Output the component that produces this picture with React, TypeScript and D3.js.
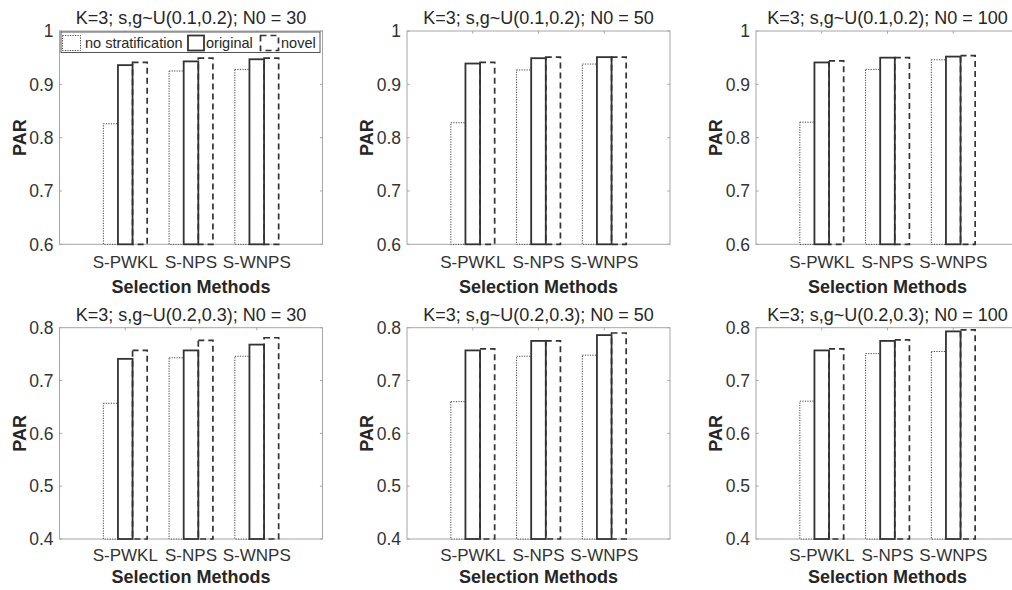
import React from 'react';
import * as d3 from 'd3';

const methods = ['S-PWKL', 'S-NPS', 'S-WNPS'];
const seriesNames = ['no stratification', 'original', 'novel'];
const titles = [
  'K=3; s,g~U(0.1,0.2); N0 = 30',
  'K=3; s,g~U(0.1,0.2); N0 = 50',
  'K=3; s,g~U(0.1,0.2); N0 = 100',
  'K=3; s,g~U(0.2,0.3); N0 = 30',
  'K=3; s,g~U(0.2,0.3); N0 = 50',
  'K=3; s,g~U(0.2,0.3); N0 = 100',
];
const noStrat = [
  [0.826, 0.925, 0.928],
  [0.828, 0.927, 0.938],
  [0.829, 0.928, 0.946],
  [0.657, 0.743, 0.746],
  [0.66, 0.746, 0.748],
  [0.661, 0.751, 0.755],
];
const original = [
  [0.936, 0.943, 0.947],
  [0.939, 0.949, 0.951],
  [0.941, 0.95, 0.952],
  [0.741, 0.757, 0.768],
  [0.757, 0.775, 0.786],
  [0.757, 0.775, 0.793],
];
const novel = [
  [0.941, 0.949, 0.949],
  [0.941, 0.951, 0.951],
  [0.944, 0.95, 0.954],
  [0.757, 0.776, 0.781],
  [0.76, 0.775, 0.79],
  [0.76, 0.777, 0.796],
];
const topTicks = [0.6, 0.7, 0.8, 0.9, 1];
const bottomTicks = [0.4, 0.5, 0.6, 0.7, 0.8];

const FONT = '"Liberation Sans", Arial, Helvetica, sans-serif';
const colLeft = [59.5, 407, 756];
const panelW = 263;
const rowTop = [31, 327.7];
const rowBottom = [244.3, 539];
const tickLabelOff = [24, 21.5];
const xLabelOff = [49, 44];

const barStyles = [
  { stroke: '#444', width: 1, dash: '1.2 1.3' },
  { stroke: '#333', width: 1.8, dash: null },
  { stroke: '#333', width: 1.7, dash: '6 4' },
];

function Panel({ idx }: { idx: number }) {
  const row = Math.floor(idx / 3);
  const col = idx % 3;
  const left = colLeft[col];
  const right = left + panelW;
  const top = rowTop[row];
  const bottom = rowBottom[row];
  const ticks = row === 0 ? topTicks : bottomTicks;
  const x = d3.scaleLinear().domain([0, 4]).range([left, right]);
  const y = d3.scaleLinear().domain(d3.extent(ticks) as [number, number]).range([bottom, top]);
  const bw = 2 / 9; // MATLAB grouped bar width
  const data = [noStrat[idx], original[idx], novel[idx]];
  const tl = 2.6;

  return (
    <g>
      <rect x={left} y={top} width={panelW} height={bottom - top} fill="#fff" stroke="#a6a6a6" strokeWidth={1} />
      {ticks.map((t) => (
        <g key={t}>
          <line x1={left} x2={left + tl} y1={y(t)} y2={y(t)} stroke="#a6a6a6" />
          <line x1={right} x2={right - tl} y1={y(t)} y2={y(t)} stroke="#a6a6a6" />
          <text x={left - 6} y={y(t)} dy="0.36em" textAnchor="end" fontSize={17.5} fill="#333" fontFamily={FONT}>
            {d3.format('~g')(t)}
          </text>
        </g>
      ))}
      {methods.map((m, i) => (
        <g key={m}>
          <line x1={x(i + 1)} x2={x(i + 1)} y1={bottom} y2={bottom - tl} stroke="#a6a6a6" />
          <line x1={x(i + 1)} x2={x(i + 1)} y1={top} y2={top + tl} stroke="#a6a6a6" />
          <text x={x(i + 1)} y={bottom + tickLabelOff[row]} textAnchor="middle" fontSize={17} fill="#333" fontFamily={FONT}>
            {m}
          </text>
        </g>
      ))}
      {data.map((vals, s) =>
        vals.map((v, i) => {
          const cx = i + 1 + (s - 1) * bw;
          const x0 = x(cx - bw / 2);
          const x1 = x(cx + bw / 2);
          const st = barStyles[s];
          return (
            <rect
              key={`${s}-${i}`}
              x={x0}
              y={y(v)}
              width={x1 - x0}
              height={bottom - y(v)}
              fill={s === 2 ? 'none' : '#fff'}
              stroke={st.stroke}
              strokeWidth={st.width}
              strokeDasharray={st.dash ?? undefined}
            />
          );
        })
      )}
      <text x={(left + right) / 2} y={top - 7} textAnchor="middle" fontSize={18} fill="#262626" fontFamily={FONT}>
        {titles[idx]}
      </text>
      <text x={(left + right) / 2} y={bottom + xLabelOff[row]} textAnchor="middle" fontSize={18} fontWeight="bold" fill="#262626" fontFamily={FONT}>
        Selection Methods
      </text>
      <text
        transform={`translate(${left - 34},${(top + bottom) / 2}) rotate(-90)`}
        textAnchor="middle"
        fontSize={18}
        fontWeight="bold"
        fill="#262626"
        fontFamily={FONT}
      >
        PAR
      </text>
    </g>
  );
}

function Legend() {
  const lx = 61;
  const ly = 32;
  const icons = [
    { x: 62.5, tx: 85 },
    { x: 188, tx: 206 },
    { x: 260.5, tx: 281 },
  ];
  return (
    <g>
      <rect x={lx} y={ly} width={259} height={20.5} fill="#fff" stroke="#555" strokeWidth={1} />
      {seriesNames.map((n, i) => {
        const st = barStyles[i];
        return (
          <g key={n}>
            <rect
              x={icons[i].x}
              y={35.5}
              width={i === 1 ? 16 : 18}
              height={15}
              fill="#fff"
              stroke={st.stroke}
              strokeWidth={st.width}
              strokeDasharray={st.dash ?? undefined}
            />
            <text x={icons[i].tx} y={47.5} fontSize={14.5} fill="#262626" fontFamily={FONT}>
              {n}
            </text>
          </g>
        );
      })}
    </g>
  );
}

export default function App() {
  return (
    <svg width={1012} height={590} style={{ position: 'absolute', left: 0, top: 0, background: '#fff' }}>
      <rect width={1012} height={590} fill="#fff" />
      {titles.map((_, i) => (
        <Panel key={i} idx={i} />
      ))}
      <Legend />
    </svg>
  );
}
